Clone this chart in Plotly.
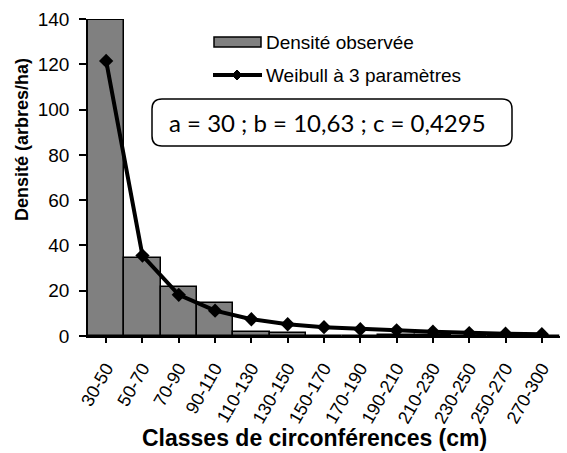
import plotly.graph_objects as go

categories = ["30-50", "50-70", "70-90", "90-110", "110-130", "130-150", "150-170",
              "170-190", "190-210", "210-230", "230-250", "250-270", "270-300"]
observed = [139.5, 34.5, 21.5, 14.5, 1.7, 1.2, 0.0, 0.0, 0.6, 0.6, 0.0, 0.0, 0.0]
weibull = [121.5, 35.5, 18.2, 11.2, 7.4, 5.2, 3.9, 3.0, 2.5, 1.9, 1.3, 1.0, 0.8]
y_ticks = [0, 20, 40, 60, 80, 100, 120, 140]
params_text = "a = 30 ; b = 10,63 ; c = 0,4295"
name_obs = "Densité observée"
name_weib = "Weibull à 3 paramètres"
x_title = "Classes de circonférences (cm)"
y_title = "Densité (arbres/ha)"

font = "Liberation Sans, Arial, sans-serif"
W, H = 567, 453
L, R, T, B = 88, 7, 19, 117
pw, ph = W - L - R, H - T - B


def px(x):
    return (x - L) / pw


def py(y):
    return 1 - (y - T) / ph


fig = go.Figure()
fig.add_trace(go.Bar(
    x=categories, y=observed, name=name_obs,
    marker=dict(color="#808080", line=dict(color="black", width=1.5)),
))
fig.add_trace(go.Scatter(
    x=categories, y=weibull, name=name_weib,
    mode="lines+markers",
    line=dict(color="black", width=4),
    marker=dict(symbol="diamond", size=11, color="black"),
))

fig.update_layout(
    width=W, height=H,
    margin=dict(l=L, r=R, t=T, b=B),
    paper_bgcolor="white", plot_bgcolor="white",
    bargap=0,
    showlegend=False,
    font=dict(family=font, color="black"),
)
fig.update_xaxes(
    type="category", automargin=False,
    range=[-0.5, len(categories) - 0.5],
    showline=True, linecolor="black", linewidth=1.5,
    ticks="outside", ticklen=5, tickcolor="black", tickwidth=1.5,
    tickangle=-60, ticklabelstandoff=8,
    tickfont=dict(family=font, size=18, color="black"),
    showgrid=False,
)
fig.update_yaxes(
    range=[0, 140], tickvals=y_ticks, automargin=False,
    showline=True, linecolor="black", linewidth=1.5,
    ticks="outside", ticklen=7, tickcolor="black", tickwidth=1.5,
    ticklabelstandoff=6,
    tickfont=dict(family=font, size=19, color="black"),
    showgrid=False, zeroline=False,
)

# axis titles
fig.add_annotation(x=px(22), y=py(140), xref="paper", yref="paper",
                   text=f"<b>{y_title}</b>", textangle=-90, showarrow=False,
                   xanchor="center", yanchor="middle",
                   font=dict(family=font, size=18, color="black"))
fig.add_annotation(x=px(314), y=py(438), xref="paper", yref="paper",
                   text=f"<b>{x_title}</b>", showarrow=False,
                   xanchor="center", yanchor="middle",
                   font=dict(family=font, size=23, color="black"))

# legend (drawn)
fig.add_shape(type="rect", xref="paper", yref="paper",
              x0=px(214), x1=px(261), y0=py(37), y1=py(47),
              fillcolor="#808080", line=dict(color="black", width=1.5))
fig.add_annotation(x=px(264), y=py(42), xref="paper", yref="paper",
                   text=name_obs, showarrow=False, xanchor="left", yanchor="middle",
                   font=dict(family=font, size=19, color="black"))
fig.add_shape(type="line", xref="paper", yref="paper",
              x0=px(213), x1=px(262), y0=py(75), y1=py(75),
              line=dict(color="black", width=4))
d = 5
fig.add_shape(type="path", xref="paper", yref="paper",
              path=(f"M {px(237-d)},{py(75)} L {px(237)},{py(75-d)} "
                    f"L {px(237+d)},{py(75)} L {px(237)},{py(75+d)} Z"),
              fillcolor="black", line=dict(color="black", width=1))
fig.add_annotation(x=px(264), y=py(75), xref="paper", yref="paper",
                   text=name_weib, showarrow=False, xanchor="left", yanchor="middle",
                   font=dict(family=font, size=19, color="black"))

# rounded annotation box
x0, x1, y0, y1 = 152, 512, 99, 146
r = 10
path = (f"M {px(x0+r)},{py(y0)} L {px(x1-r)},{py(y0)} Q {px(x1)},{py(y0)} {px(x1)},{py(y0+r)} "
        f"L {px(x1)},{py(y1-r)} Q {px(x1)},{py(y1)} {px(x1-r)},{py(y1)} L {px(x0+r)},{py(y1)} "
        f"Q {px(x0)},{py(y1)} {px(x0)},{py(y1-r)} L {px(x0)},{py(y0+r)} Q {px(x0)},{py(y0)} {px(x0+r)},{py(y0)} Z")
fig.add_shape(type="path", path=path, xref="paper", yref="paper",
              line=dict(color="black", width=1.5), fillcolor="white")
fig.add_annotation(
    x=px(327), y=py((y0 + y1) / 2), xref="paper", yref="paper",
    text=params_text, showarrow=False, xanchor="center", yanchor="middle",
    font=dict(family="Lato, Carlito, Calibri, sans-serif", size=24, color="black"),
)

fig.write_html("out.html")
